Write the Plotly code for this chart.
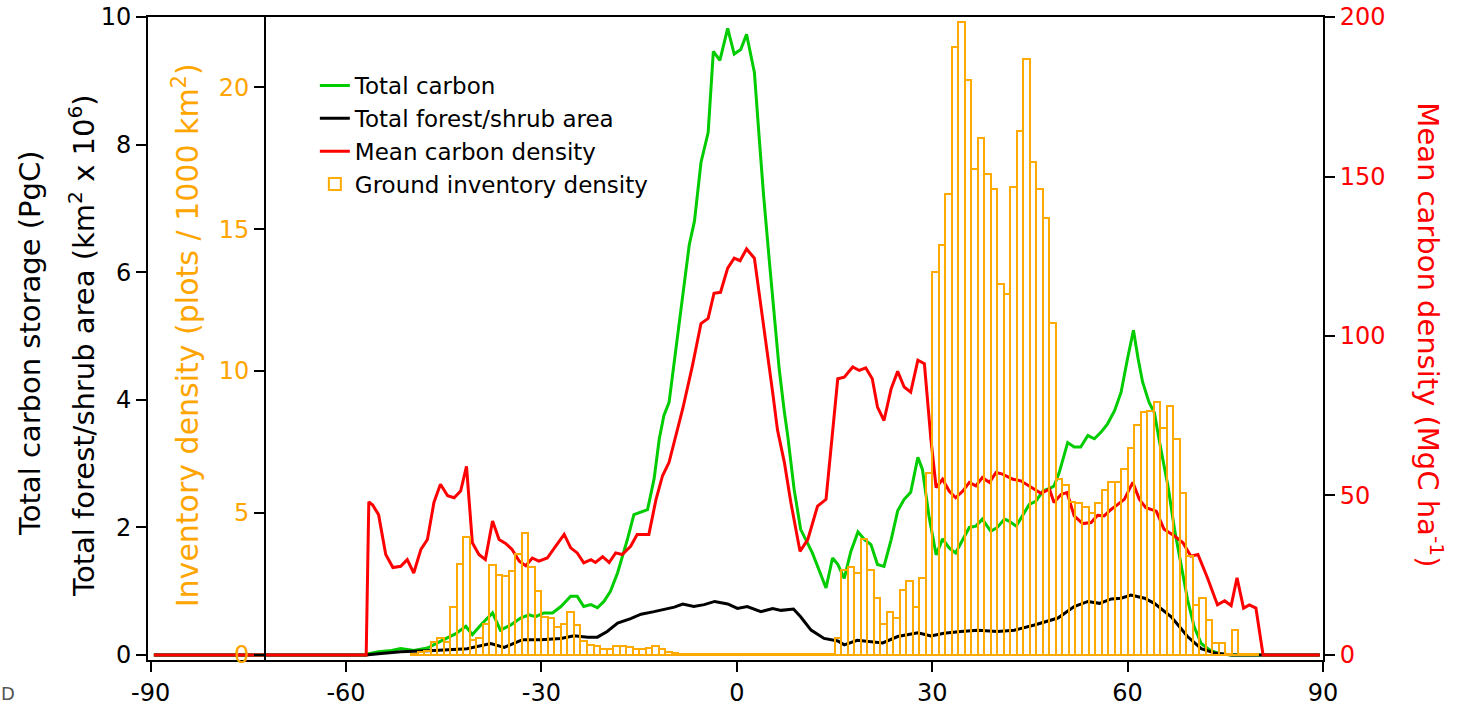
import plotly.graph_objects as go

# Total carbon storage by latitude (PgC)
carbon_lat = [-89.5, -57, -56.5, -55, -53, -51.6, -49.6, -47.5, -45, -43.2, -41.6, -40.6, -39.3,
              -37.5, -36.3, -34.7, -33.2, -31.9, -30.9, -29.6, -28.3, -27, -25.5, -24.5, -23.5,
              -22.4, -21.4, -20.4, -19.4, -18.3, -16.8, -15.8, -13.7, -12.7, -11.9, -11.2, -10.4,
              -9.4, -8.3, -7.3, -6.5, -5.5, -4.4, -3.6, -2.6, -1.4, -0.4, 0.6, 1.5, 2.7, 3.4, 4.1,
              5.0, 5.7, 6.5, 7.3, 7.8, 8.8, 9.8, 11.6, 13.7, 14.7, 15.5, 16.5, 17.5, 18.6, 19.6,
              20.6, 21.6, 22.6, 23.7, 24.7, 25.7, 26.7, 27.8, 28.5, 29.5, 30.6, 31.6, 32.6, 33.6,
              34.7, 35.7, 36.7, 37.7, 39.0, 40.0, 41.1, 41.8, 42.9, 43.9, 44.9, 45.9, 47.0, 48.2,
              48.7, 49.5, 50.8, 51.8, 52.8, 53.9, 54.9, 55.9, 56.9, 58.0, 59.0, 60.0, 60.9, 61.6,
              62.3, 63.3, 64.1, 65.1, 66.2, 67.2, 68.2, 69.2, 70.2, 71.3, 72.6, 74, 76, 89.5]
total_carbon = [0, 0, 0.02, 0.05, 0.07, 0.1, 0.07, 0.11, 0.24, 0.33, 0.45, 0.32, 0.47,
                0.66, 0.39, 0.47, 0.58, 0.63, 0.6, 0.66, 0.66, 0.76, 0.92, 0.92, 0.76,
                0.79, 0.74, 0.84, 1.0, 1.29, 1.81, 2.2, 2.28, 2.76, 3.39, 3.75, 3.96,
                4.75, 5.7, 6.43, 6.8, 7.72, 8.19, 9.46, 9.32, 9.82, 9.42, 9.49, 9.73, 9.13, 8.16, 7.22,
                6.17, 5.38, 4.49, 3.81, 3.45, 2.6, 1.97, 1.6, 1.05, 1.52, 1.42, 1.2, 1.62, 1.93, 1.81,
                1.73, 1.42, 1.39, 1.81, 2.26, 2.44, 2.55, 3.1, 2.91, 2.18, 1.57, 1.82, 1.68, 1.6,
                1.81, 2.0, 2.02, 2.13, 1.94, 2.0, 2.13, 2.1, 2.02, 2.2, 2.36, 2.41, 2.57, 2.62,
                2.65, 2.86, 3.33, 3.26, 3.26, 3.44, 3.39, 3.49, 3.62, 3.83, 4.12, 4.65, 5.09, 4.65,
                4.28, 3.96, 3.8, 3.23, 2.65, 1.97, 1.39, 0.87, 0.45, 0.18, 0.08, 0.02, 0, 0]

# Total forest/shrub area by latitude (km2 x 10^6)
area_lat = [-89.5, -57, -55, -51.6, -46.5, -41.4, -37.8, -35.7, -32.9, -30.1, -27, -25, -22.9,
            -21.4, -19.9, -18.3, -16.3, -14.7, -12.7, -11.2, -9.6, -8.3, -6.6, -5.0, -3.4, -1.4,
            0.1, 1.6, 3.7, 5.5, 6.8, 8.7, 9.8, 11.4, 13.4, 15.5, 16.5, 18.5, 20.6, 22.4, 24.7,
            27.8, 29.8, 31.8, 34.4, 37, 40, 42.6, 45.7, 49.3, 51.8, 53.9, 55.7, 57.5, 59, 60.5,
            62.6, 64.1, 66.7, 69.2, 71.3, 73.4, 76, 89.5]
forest_area = [0, 0, 0.02, 0.05, 0.07, 0.1, 0.18, 0.12, 0.24, 0.24, 0.26, 0.3, 0.28,
               0.28, 0.37, 0.5, 0.57, 0.64, 0.68, 0.71, 0.75, 0.8, 0.76, 0.79, 0.84, 0.8,
               0.73, 0.76, 0.68, 0.73, 0.7, 0.72, 0.6, 0.39, 0.26, 0.22, 0.16, 0.23, 0.21, 0.19, 0.29,
               0.35, 0.3, 0.34, 0.37, 0.39, 0.37, 0.39, 0.47, 0.58, 0.76, 0.84, 0.81, 0.88, 0.89, 0.94,
               0.89, 0.81, 0.6, 0.29, 0.1, 0.03, 0, 0]

# Mean carbon density by latitude (MgC/ha)
density_lat = [-89.5, -56.9, -56.5, -55.9, -55, -53.9, -52.8, -51.6, -50.6, -49.6, -48.5, -47.5,
               -46.5, -45.5, -44.4, -43.4, -42.4, -41.5, -40.6, -39.6, -38.6, -37.5, -36.5, -35.5,
               -34.5, -33.4, -32.4, -31.4, -30.4, -29.1, -27.8, -26.5, -25.5, -24.5, -23.5, -22.4,
               -21.7, -20.6, -19.6, -18.6, -17.6, -16.3, -15.3, -13.5, -12.4, -11.4, -10.4, -9.1,
               -8.3, -6.8, -5.5, -4.4, -3.5, -2.5, -1.4, -0.4, 0.5, 1.5, 2.7, 3.4, 4.5, 5.5, 6.25,
               7.3, 8.3, 9.3, 9.7, 10.9, 12.4, 13.7, 14.7, 15.5, 16.5, 17.8, 18.8, 19.8, 20.8, 21.6,
               22.6, 23.7, 24.7, 25.7, 26.7, 27.8, 28.8, 29.8, 30.6, 31.6, 32.6, 33.6, 34.7, 35.7,
               36.7, 37.7, 38.8, 39.8, 40.8, 42.4, 43.6, 45.2, 46.7, 48.0, 48.7, 49.8, 50.7, 51.8,
               53.1, 54.4, 55.4, 56.4, 57.5, 58.5, 59.5, 60.8, 61.8, 62.8, 64.4, 65.6, 67.2, 68.5,
               69.7, 70.8, 72.3, 73.8, 74.9, 75.9, 76.8, 77.8, 78.7, 79.7, 80.8, 89.5]
carbon_density = [0, 0, 48, 47, 44, 31.5, 27.4, 27.8, 29.9, 25.7, 33.1, 36.2,
                  47.8, 53.5, 49.9, 49.3, 51.4, 59.1, 35.2, 31.5, 29.9, 42, 36.2, 35,
                  33.1, 29.4, 28, 30.4, 29.4, 30.4, 34.1, 37.8, 33.6, 32, 28.9, 29.9,
                  29, 30.8, 29, 32, 31.5, 34.1, 37.8, 37.8, 48.8, 56.2, 60.4, 70.9,
                  77.2, 90.8, 103.9, 105.5, 113.4, 113.7, 121.3, 124.4, 123.6, 127.3, 124.4, 113.9,
                  98.2, 82.4, 70.5, 60.4, 47.8, 36.2, 32.5, 36.2, 46.7, 48.8, 70.9, 86.6, 87.1, 90.3,
                  89.2, 90, 86.6, 77.7, 73.5, 83.5, 88.9, 84, 82.4, 92.4, 91.3, 67.7, 52.5, 55.1,
                  51.4, 49.3, 51.4, 54.1, 53, 55.6, 54.1, 57.2, 56.7, 55.1, 54.6, 52.5, 50.7, 52,
                  47.8, 50.4, 50.9, 43.6, 41.2, 41.5, 43.8, 43.6, 45.7, 47.2, 48.8, 54.1, 48.8, 46.2,
                  45.1, 39.4, 37.3, 35.2, 31, 31.5, 24, 15.7, 17, 15.5, 24.2, 14.7, 15.7, 14.7, 0, 0]

# Ground inventory plot density in 1-degree latitude bands (plots / 1000 km2)
inv_band_start = list(range(-50, 80))
inv_density = [0.05, 0.1, 0.15, 0.46, 0.6, 0.45, 1.7, 3.2, 4.15, 0.53,
               0.6, 1.1, 3.17, 2.81, 2.79, 2.97, 3.55, 4.28, 3.1, 2.27,
               1.35, 1.3, 1.0, 1.09, 1.53, 1.05, 0.5, 0.35, 0.33, 0.2,
               0.2, 0.3, 0.3, 0.28, 0.2, 0.2, 0.25, 0.32, 0.22, 0.1,
               0.08, 0.05, 0.03, 0.03, 0.03, 0.03, 0.03, 0.03, 0.03, 0.03,
               0.03, 0.03, 0.03, 0.03, 0.03, 0.03, 0.03, 0.03, 0.03, 0.03,
               0.03, 0.03, 0.03, 0.03, 0.05, 0.6, 3.0, 3.1, 2.9, 4.1,
               3.0, 2.0, 1.1, 1.5, 1.3, 2.3, 2.6, 1.7, 2.7, 6.4,
               13.5, 14.45, 16.25, 21.4, 22.3, 20.25, 17.1, 18.2, 16.95, 16.4,
               13.05, 12.7, 16.5, 18.45, 21.0, 17.35, 16.4, 15.4, 11.7, 6.2,
               6.0, 5.4, 5.35, 5.2, 5.0, 5.35, 5.8, 6.1, 6.1, 6.55,
               7.3, 8.1, 8.55, 8.6, 8.9, 8.0, 8.76, 7.6, 5.7, 3.5,
               1.75, 2.0, 1.23, 0.43, 0.43, 0.05, 0.88, 0.03, 0.03, 0.03]
inv_center = [s + 0.5 for s in inv_band_start]

x_ticks = [-90, -60, -30, 0, 30, 60, 90]
x_tick_labels = ["-90", "-60", "-30", "0", "30", "60", "90"]
left_ticks = [0, 2, 4, 6, 8, 10]
inv_ticks = [0, 5, 10, 15, 20]
density_ticks = [0, 50, 100, 150, 200]

GREEN = "#00CC00"
RED = "#FF0000"
ORANGE = "#FFA500"
BAR_ORANGE = "#FFAA00"
FONT = "DejaVu Sans"

fig = go.Figure()
fig.add_trace(go.Scatter(x=carbon_lat, y=total_carbon, mode="lines", name="Total carbon",
                         line=dict(color=GREEN, width=3), yaxis="y"))
fig.add_trace(go.Scatter(x=area_lat, y=forest_area, mode="lines", name="Total forest/shrub area",
                         line=dict(color="black", width=3), yaxis="y"))
fig.add_trace(go.Scatter(x=density_lat, y=carbon_density, mode="lines", name="Mean carbon density",
                         line=dict(color=RED, width=3), yaxis="y2"))
fig.add_trace(go.Bar(x=inv_center, y=inv_density, width=1.0, name="Ground inventory density",
                     marker=dict(color="rgba(255,255,255,0)", line=dict(color=BAR_ORANGE, width=2)),
                     yaxis="y3"))

axis_common = dict(showgrid=False, zeroline=False, showline=True, linecolor="black",
                   linewidth=2, ticks="outside", ticklen=10, tickwidth=2, tickcolor="black",
                   automargin=False)

fig.update_layout(
    width=1457, height=710, autosize=False,
    margin=dict(l=148, r=134, t=17, b=50),
    paper_bgcolor="white", plot_bgcolor="white",
    font=dict(family=FONT, size=24, color="black"),
    bargap=0,
    showlegend=True,
    legend=dict(x=0.142, y=0.927, xanchor="left", yanchor="top",
                font=dict(family=FONT, size=23, color="black"),
                bgcolor="rgba(255,255,255,0)", borderwidth=0),
    xaxis=dict(range=[-90.4, 90], tickvals=x_ticks, ticktext=x_tick_labels, mirror=True,
               **axis_common),
    yaxis=dict(range=[-0.078, 10], tickvals=left_ticks, **axis_common),
    yaxis2=dict(range=[-1.57, 200], tickvals=density_ticks, overlaying="y", side="right",
                tickfont=dict(color=RED), **axis_common),
    yaxis3=dict(range=[-0.176, 22.47], tickvals=inv_ticks, overlaying="y", side="left",
                anchor="free", position=0.0996, tickfont=dict(color=ORANGE), **axis_common),
)

title_font = dict(family=FONT, size=29)
fig.add_annotation(text="Total carbon storage (PgC)", xref="paper", yref="paper",
                   x=-0.1004, y=0.493, textangle=-90, showarrow=False,
                   xanchor="center", yanchor="middle", font=dict(color="black", **title_font))
fig.add_annotation(text="Total forest/shrub area (km<sup>2</sup> x 10<sup>6</sup>)",
                   xref="paper", yref="paper", x=-0.0562, y=0.49, textangle=-90, showarrow=False,
                   xanchor="center", yanchor="middle", font=dict(color="black", **title_font))
fig.add_annotation(text="Inventory density (plots / 1000 km<sup>2</sup>)",
                   xref="paper", yref="paper", x=0.0323, y=0.505, textangle=-90, showarrow=False,
                   xanchor="center", yanchor="middle",
                   font=dict(family=FONT, size=30, color=ORANGE))
fig.add_annotation(text="Mean carbon density (MgC ha<sup>-1</sup>)",
                   xref="paper", yref="paper", x=1.091, y=0.505, textangle=90, showarrow=False,
                   xanchor="center", yanchor="middle", font=dict(color=RED, **title_font))
fig.add_annotation(text="D", xref="paper", yref="paper", x=-0.119, y=-0.052, showarrow=False,
                   xanchor="center", yanchor="middle", font=dict(family=FONT, size=18, color="#555555"))

fig.write_html("out.html")
